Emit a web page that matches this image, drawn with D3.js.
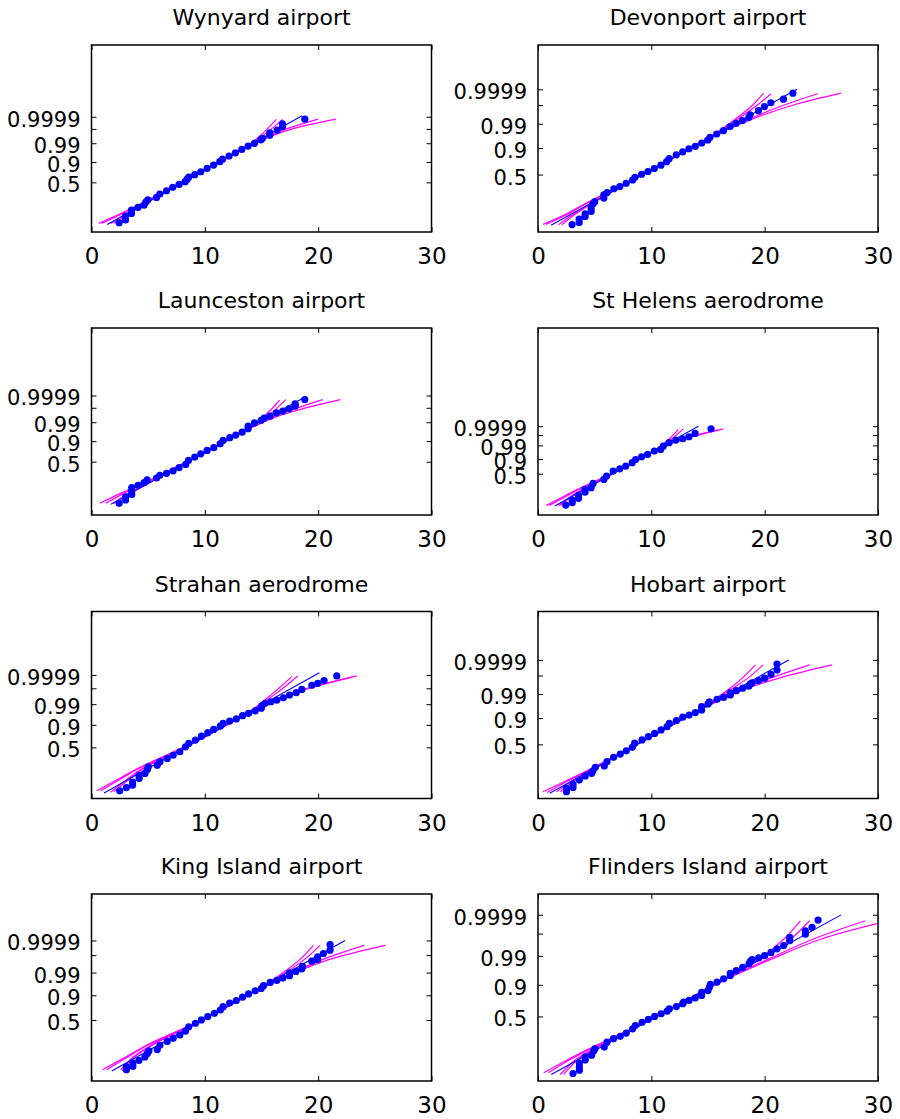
<!DOCTYPE html>
<html>
<head>
<meta charset="utf-8">
<script src="https://cdn.jsdelivr.net/npm/d3@7/dist/d3.min.js"></script>
<style>
  body { margin: 0; background: #fff; }
  svg text { font-family: "DejaVu Sans", "Liberation Sans", sans-serif; fill: #000; }
</style>
</head>
<body>
<div id="chart"></div>
<script>
const width = 900;
const height = 1119;

// station titles, in panel order (row by row)
const stations = ["Wynyard airport", "Devonport airport", "Launceston airport", "St Helens aerodrome",
                  "Strahan aerodrome", "Hobart airport", "King Island airport", "Flinders Island airport"];

const xTicks = [0, 10, 20, 30];
const probTicks = [0.5, 0.9, 0.99, 0.999, 0.9999];
const probLabels = ["0.5", "0.9", "0.99", "", "0.9999"];

// y limits of each panel, in reduced variate units
const yLimits = [[-1.18, 7.70], [-0.92, 5.91], [-1.33, 7.47], [-1.53, 10.73],
                 [-1.02, 7.02], [-0.82, 6.08], [-1.21, 6.11], [-0.80, 4.93]];

// observed wind speeds [speed, reduced variate]
const wynyardPts = [[2.44,-0.74],[3.0,-0.61],[3.0,-0.42],[3.53,-0.30],[3.53,-0.14],[4.11,-0.01],[4.64,0.10],[4.79,0.24],[4.97,0.35],[5.74,0.46],[6.03,0.62],[6.62,0.78],[7.17,0.94],[7.73,1.08],[8.26,1.21],[8.44,1.33],[8.59,1.43],[9.11,1.54],[9.64,1.68],[10.2,1.84],[10.77,2.0],[11.32,2.16],[11.56,2.28],[12.14,2.43],[12.7,2.58],[13.26,2.74],[13.82,2.9],[14.38,3.03],[14.94,3.19],[15.09,3.27],[15.73,3.41],[15.73,3.53],[16.38,3.66],[16.85,3.82],[16.85,3.96],[18.82,4.18]];
const devonportPts = [[3.01,-0.65],[3.63,-0.57],[3.63,-0.45],[4.16,-0.35],[4.16,-0.26],[4.69,-0.17],[4.69,-0.05],[4.86,0.11],[5.01,0.19],[5.81,0.32],[5.81,0.44],[6.1,0.52],[6.69,0.66],[7.22,0.74],[7.78,0.86],[8.35,0.98],[8.55,1.08],[9.14,1.19],[9.7,1.29],[10.26,1.40],[10.85,1.52],[11.35,1.65],[11.58,1.76],[12.2,1.90],[12.77,2.01],[13.32,2.12],[13.88,2.21],[14.45,2.33],[14.98,2.44],[15.18,2.54],[15.77,2.66],[16.36,2.78],[16.95,2.93],[17.48,3.05],[18.04,3.15],[18.6,3.27],[18.72,3.36],[19.45,3.51],[19.98,3.66],[20.55,3.80],[21.66,3.93],[22.49,4.15]];
const launcestonPts = [[2.44,-0.78],[3.01,-0.62],[3.01,-0.47],[3.55,-0.36],[3.55,-0.2],[3.55,-0.04],[4.11,0.07],[4.64,0.19],[4.91,0.32],[5.74,0.41],[6.03,0.54],[6.62,0.63],[7.2,0.75],[7.73,0.9],[8.32,1.05],[8.56,1.24],[9.11,1.40],[9.64,1.55],[10.2,1.71],[10.79,1.84],[11.35,2.02],[11.61,2.18],[12.2,2.31],[12.73,2.43],[13.29,2.57],[13.82,2.73],[13.82,2.85],[14.38,3.01],[14.97,3.13],[15.23,3.23],[15.76,3.32],[16.32,3.48],[16.88,3.56],[17.44,3.68],[17.97,3.79],[17.97,3.9],[18.82,4.1]];
const stHelensPts = [[2.45,-0.88],[3.02,-0.72],[3.02,-0.55],[3.58,-0.44],[3.58,-0.24],[4.15,-0.03],[4.15,0.15],[4.69,0.26],[4.86,0.54],[5.81,0.8],[6.05,1.02],[6.63,1.35],[7.22,1.5],[7.75,1.68],[8.31,1.9],[8.61,2.11],[9.14,2.29],[9.67,2.44],[10.26,2.66],[10.82,2.77],[11.05,2.98],[11.56,3.21],[12.17,3.38],[12.77,3.47],[13.32,3.6],[13.86,3.82],[15.27,4.12]];
const strahanPts = [[2.49,-0.69],[3.08,-0.55],[3.62,-0.45],[3.62,-0.31],[4.2,-0.16],[4.2,-0.02],[4.72,0.06],[4.93,0.23],[5.01,0.34],[5.8,0.41],[6.04,0.56],[6.68,0.7],[7.21,0.84],[7.79,0.99],[8.29,1.2],[8.58,1.35],[9.17,1.49],[9.7,1.66],[10.26,1.81],[10.78,1.95],[11.37,2.09],[11.61,2.21],[12.19,2.31],[12.78,2.4],[13.33,2.54],[13.86,2.64],[14.45,2.75],[14.98,2.86],[15.04,2.97],[15.33,3.07],[15.83,3.14],[16.36,3.21],[16.94,3.31],[17.47,3.43],[18.06,3.53],[18.56,3.67],[19.44,3.85],[19.96,3.93],[20.52,4.05],[21.64,4.25]];
const hobartPts = [[2.51,-0.57],[2.51,-0.45],[3.09,-0.41],[3.09,-0.29],[3.65,-0.14],[4.17,0.01],[4.73,0.11],[4.85,0.2],[5.06,0.33],[5.85,0.38],[6.09,0.54],[6.67,0.7],[7.26,0.82],[7.79,0.94],[8.32,1.07],[8.53,1.22],[9.18,1.34],[9.74,1.46],[10.29,1.58],[10.86,1.71],[11.39,1.83],[11.59,1.95],[12.21,2.05],[12.77,2.18],[13.33,2.26],[13.88,2.35],[14.44,2.45],[14.44,2.57],[15.0,2.67],[15.12,2.75],[15.8,2.84],[16.38,2.91],[16.97,3.0],[16.97,3.08],[17.5,3.16],[18.06,3.25],[18.62,3.33],[18.74,3.41],[18.89,3.45],[19.47,3.53],[20.0,3.62],[20.56,3.76],[21.09,3.92],[21.09,4.14]];
const kingIslandPts = [[3.08,-0.77],[3.08,-0.66],[3.65,-0.63],[3.65,-0.5],[4.19,-0.4],[4.71,-0.27],[4.93,-0.13],[5.07,-0.03],[5.8,0.02],[6.04,0.19],[6.68,0.34],[7.21,0.46],[7.79,0.59],[8.29,0.74],[8.58,0.91],[9.17,1.05],[9.7,1.18],[10.26,1.31],[10.84,1.44],[11.37,1.57],[11.61,1.7],[12.19,1.84],[12.78,1.94],[13.33,2.07],[13.86,2.2],[14.45,2.32],[14.98,2.41],[15.18,2.52],[15.77,2.65],[16.36,2.73],[16.89,2.82],[17.47,2.91],[17.47,3.02],[18.03,3.08],[18.56,3.18],[18.61,3.28],[19.44,3.48],[19.96,3.54],[19.96,3.65],[20.46,3.78],[21.05,3.91],[21.05,4.13]];
const flindersPts = [[3.09,-0.57],[3.65,-0.47],[3.65,-0.37],[3.65,-0.25],[4.17,-0.16],[4.17,-0.06],[4.73,-0.01],[4.91,0.12],[5.03,0.19],[5.85,0.24],[6.09,0.39],[6.67,0.5],[7.26,0.57],[7.79,0.67],[8.35,0.8],[8.59,0.9],[9.18,1.0],[9.74,1.09],[10.29,1.18],[10.86,1.26],[11.39,1.34],[11.59,1.41],[12.21,1.48],[12.77,1.57],[12.85,1.62],[13.33,1.67],[13.88,1.75],[14.44,1.82],[14.44,1.92],[15.0,1.97],[15.12,2.07],[15.21,2.16],[15.8,2.23],[16.38,2.33],[16.97,2.43],[16.97,2.5],[17.5,2.58],[18.06,2.68],[18.62,2.79],[18.74,2.87],[18.89,2.92],[19.47,2.97],[20.0,3.04],[20.56,3.14],[21.09,3.25],[21.68,3.35],[22.21,3.5],[22.21,3.6],[23.59,3.7],[23.59,3.8],[24.18,3.91],[24.71,4.13]];

const pointsByStation = [wynyardPts, devonportPts, launcestonPts, stHelensPts,
                         strahanPts, hobartPts, kingIslandPts, flindersPts];

// straight reference fit [x0, t0, x1, t1]
const fitLines = [[1.38,-0.82,18.58,4.34], [1.15,-0.67,22.85,4.29], [1.68,-0.83,18.97,4.26], [1.48,-0.94,14.15,4.29],
                  [1.11,-0.78,20.11,4.39], [1.03,-0.63,22.12,4.29], [1.79,-0.82,22.37,4.29], [1.17,-0.6,26.74,4.29]];

// other candidate distributions (magenta), four per station
const wynyardFits = [
  [[0.65,-0.77],[2.2,-0.4],[4.1,0.1],[9.1,1.5],[13.6,2.85],[15.2,3.55],[16.3,4.17]],
  [[0.9,-0.77],[2.4,-0.4],[4.2,0.1],[9.1,1.5],[13.6,2.85],[15.5,3.55],[16.85,4.17]],
  [[1.7,-0.77],[2.9,-0.4],[4.5,0.1],[9.1,1.5],[13.6,2.85],[16.6,3.6],[20.0,4.18]],
  [[2.0,-0.77],[3.1,-0.4],[4.6,0.1],[9.1,1.5],[13.7,2.85],[17.0,3.6],[21.56,4.18]]];
const devonportFits = [
  [[0.44,-0.64],[2.3,-0.3],[4.1,0.1],[9.3,1.2],[14.6,2.4],[17.4,3.2],[18.9,3.7],[19.9,4.15]],
  [[0.7,-0.64],[2.5,-0.3],[4.2,0.1],[9.3,1.2],[14.6,2.4],[17.6,3.2],[19.3,3.7],[20.55,4.12]],
  [[1.8,-0.66],[3.0,-0.3],[4.6,0.1],[9.3,1.2],[14.6,2.4],[18.6,3.2],[21.6,3.7],[24.67,4.13]],
  [[2.1,-0.66],[3.2,-0.3],[4.7,0.1],[9.3,1.2],[14.6,2.4],[18.9,3.2],[22.4,3.7],[26.74,4.15]]];
const launcestonFits = [
  [[0.73,-0.78],[2.6,-0.3],[4.3,0.1],[9.6,1.5],[13.7,2.7],[15.4,3.4],[16.6,4.07]],
  [[1.26,-0.78],[2.9,-0.3],[4.4,0.1],[9.6,1.5],[13.7,2.7],[15.7,3.4],[17.15,4.1]],
  [[1.9,-0.8],[3.3,-0.3],[4.7,0.1],[9.6,1.5],[13.8,2.7],[16.6,3.4],[20.38,4.1]],
  [[2.2,-0.8],[3.5,-0.3],[4.8,0.1],[9.6,1.5],[13.8,2.7],[16.9,3.4],[21.97,4.1]]];
const stHelensFits = [
  [[0.74,-0.9],[2.3,-0.3],[3.9,0.3],[7.4,1.5],[10.3,2.7],[11.5,3.4],[12.38,4.08]],
  [[1.0,-0.9],[2.5,-0.3],[4.0,0.3],[7.4,1.5],[10.3,2.7],[11.7,3.4],[12.82,4.12]],
  [[1.8,-0.92],[2.9,-0.3],[4.3,0.3],[7.4,1.5],[10.4,2.7],[12.5,3.4],[15.9,4.06]],
  [[2.0,-0.92],[3.0,-0.3],[4.4,0.3],[7.4,1.5],[10.4,2.7],[12.7,3.4],[16.36,4.12]]];
const strahanFits = [
  [[0.47,-0.69],[2.3,-0.2],[4.2,0.3],[9.5,1.5],[13.9,2.7],[16.0,3.5],[17.68,4.22]],
  [[0.8,-0.69],[2.5,-0.2],[4.3,0.3],[9.5,1.5],[13.9,2.7],[16.3,3.5],[18.2,4.25]],
  [[1.7,-0.75],[3.1,-0.2],[4.6,0.3],[9.5,1.5],[14.0,2.7],[17.6,3.5],[23.0,4.2]],
  [[2.0,-0.72],[3.3,-0.2],[4.7,0.3],[9.5,1.5],[14.0,2.7],[17.8,3.5],[23.4,4.25]]];
const hobartFits = [
  [[0.44,-0.57],[2.3,-0.2],[4.3,0.2],[9.7,1.4],[14.0,2.4],[16.8,3.2],[18.1,3.65],[19.18,4.11]],
  [[0.8,-0.6],[2.5,-0.2],[4.4,0.2],[9.7,1.4],[14.0,2.4],[17.0,3.2],[18.6,3.65],[19.86,4.11]],
  [[1.62,-0.57],[2.9,-0.2],[4.6,0.2],[9.7,1.4],[14.1,2.4],[17.9,3.2],[20.7,3.65],[23.97,4.11]],
  [[1.97,-0.57],[3.1,-0.2],[4.7,0.2],[9.7,1.4],[14.1,2.4],[18.2,3.2],[21.5,3.65],[25.95,4.11]]];
const kingIslandFits = [
  [[0.97,-0.77],[2.9,-0.3],[4.9,0.2],[10.1,1.25],[14.4,2.3],[16.8,3.0],[18.4,3.55],[19.58,4.1]],
  [[1.35,-0.77],[3.1,-0.3],[5.0,0.2],[10.1,1.25],[14.4,2.3],[17.0,3.0],[18.8,3.55],[20.17,4.1]],
  [[2.58,-0.77],[3.6,-0.3],[5.3,0.2],[10.1,1.25],[14.5,2.3],[17.6,3.0],[20.4,3.55],[24.06,4.1]],
  [[2.72,-0.8],[3.7,-0.3],[5.4,0.2],[10.1,1.25],[14.5,2.3],[17.8,3.0],[21.0,3.55],[25.94,4.1]]];
const flindersFits = [
  [[0.5,-0.55],[2.6,-0.15],[4.6,0.2],[10.6,1.2],[15.8,2.2],[19.6,2.95],[21.7,3.55],[23.15,4.11]],
  [[0.93,-0.55],[2.8,-0.15],[4.7,0.2],[10.6,1.2],[15.8,2.2],[19.7,2.95],[22.3,3.55],[23.97,4.11]],
  [[1.97,-0.6],[3.3,-0.15],[5.0,0.2],[10.6,1.2],[15.9,2.2],[20.4,2.95],[24.3,3.55],[28.89,4.11]],
  [[2.26,-0.6],[3.5,-0.15],[5.1,0.2],[10.6,1.2],[15.9,2.2],[20.7,2.95],[25.0,3.55],[30.0,4.03]]];

const fitsByStation = [wynyardFits, devonportFits, launcestonFits, stHelensFits,
                       strahanFits, hobartFits, kingIslandFits, flindersFits];

// layout of the 2x4 grid
const colLeft = [91.5, 538];
const rowTop = [45, 328, 611.5, 894];
const boxW = 340;
const boxH = 187;
const tickLen = 5;

// probability -> reduced variate of the probability paper
const reduced = p => Math.sqrt(-2 * Math.log(1 - p));

const svg = d3.select("#chart")
    .append("svg")
        .attr("width", width)
        .attr("height", height);

function drawPanel(i) {
    const left = colLeft[i % 2];
    const top = rowTop[Math.floor(i / 2)];

    const x = d3.scaleLinear().domain([0, 30]).range([0, boxW]);
    const y = d3.scaleLinear().domain(yLimits[i]).range([boxH, 0]);

    const g = svg.append("g").attr("transform", "translate(" + left + "," + top + ")");

    g.append("defs").append("clipPath")
        .attr("id", "clip" + i)
        .append("rect")
            .attr("width", boxW)
            .attr("height", boxH);

    // title
    g.append("text")
        .attr("x", boxW / 2)
        .attr("y", -20)
        .attr("text-anchor", "middle")
        .attr("font-size", 22)
        .text(stations[i]);

    // axes, ticks pointing inwards
    const xAxis = g.append("g")
        .attr("transform", "translate(0," + boxH + ")")
        .call(d3.axisBottom(x).tickValues(xTicks).tickSizeInner(-tickLen).tickSizeOuter(0).tickPadding(16));
    g.append("g")
        .call(d3.axisTop(x).tickValues(xTicks).tickSizeInner(-tickLen).tickSizeOuter(0).tickFormat(""));

    const yAxis = g.append("g")
        .call(d3.axisLeft(y).tickValues(probTicks.map(reduced)).tickSizeInner(-tickLen).tickSizeOuter(0)
              .tickPadding(11).tickFormat((d, k) => probLabels[k]));
    g.append("g")
        .attr("transform", "translate(" + boxW + ",0)")
        .call(d3.axisRight(y).tickValues(probTicks.map(reduced)).tickSizeInner(-tickLen).tickSizeOuter(0).tickFormat(""));

    g.selectAll(".domain").remove();
    g.selectAll(".tick line").attr("stroke", "#000").attr("stroke-width", 1);
    xAxis.selectAll("text").attr("font-size", 23).attr("font-family", null);
    yAxis.selectAll("text").attr("font-size", 21).attr("font-family", null).attr("dy", "0.45em");

    const plot = g.append("g").attr("clip-path", "url(#clip" + i + ")");

    const curve = d3.line()
        .x(d => x(d[0]))
        .y(d => y(d[1]))
        .curve(d3.curveCatmullRom.alpha(0.5));

    plot.selectAll(".fit")
        .data(fitsByStation[i])
        .enter()
        .append("path")
            .attr("class", "fit")
            .attr("fill", "none")
            .attr("stroke", "#ff00ff")
            .attr("stroke-width", 1.2)
            .attr("d", curve);

    const fl = fitLines[i];
    plot.append("line")
        .attr("x1", x(fl[0])).attr("y1", y(fl[1]))
        .attr("x2", x(fl[2])).attr("y2", y(fl[3]))
        .attr("stroke", "#0000ff")
        .attr("stroke-width", 1.1);

    plot.selectAll(".obs")
        .data(pointsByStation[i])
        .enter()
        .append("circle")
            .attr("class", "obs")
            .attr("cx", d => x(d[0]))
            .attr("cy", d => y(d[1]))
            .attr("r", 3.6)
            .attr("fill", "#0000ff");

    // frame
    g.append("rect")
        .attr("width", boxW)
        .attr("height", boxH)
        .attr("fill", "none")
        .attr("stroke", "#000")
        .attr("stroke-width", 1.5);
}

stations.forEach((s, i) => drawPanel(i));
</script>
</body>
</html>
